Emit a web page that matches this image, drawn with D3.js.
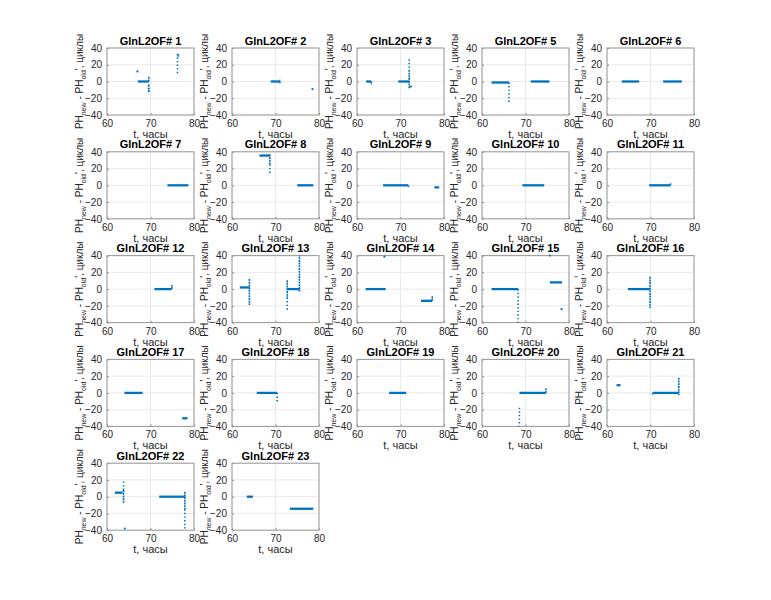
<!DOCTYPE html>
<html>
<head>
<meta charset="utf-8">
<script src="https://cdn.jsdelivr.net/npm/d3@7"></script>
<style>
  body { margin: 0; background: #fff; }
  text { font-family: "Liberation Sans", Arial, sans-serif; }
</style>
</head>
<body>
<div id="vis"></div>
<script>
// panel numbers, in the order they sit in the 5x5 grid
var panels = [1, 2, 3, 5, 6, 7, 8, 9, 10, 11, 12, 13, 14, 15, 16, 17, 18, 19, 20, 21, 22, 23];
var xTicks = [60, 70, 80];
var yTicks = [-40, -20, 0, 20, 40];

// flat runs of points: [panel, t start, t end, value]
var hRuns = [
  [1, 67.1, 69.6, 0], [1, 76.2, 76.6, 31],
  [2, 68.9, 71.0, 0],
  [3, 62.1, 63.3, 0], [3, 69.5, 72.0, 0],
  [5, 62.2, 66.2, -1.2], [5, 71.2, 75.5, 0],
  [6, 63.4, 67.4, 0], [6, 72.9, 77.2, 0],
  [7, 73.9, 78.7, 0],
  [8, 66.3, 68.7, 35.5], [8, 75.0, 78.7, 0],
  [9, 66.0, 71.8, 0], [9, 77.8, 78.9, -2.5],
  [10, 69.3, 74.3, 0],
  [11, 69.7, 74.6, 0],
  [12, 70.9, 74.9, 0],
  [13, 61.8, 64.0, 2], [13, 72.7, 75.5, 0],
  [14, 62.0, 66.6, 0], [14, 74.7, 77.3, -14],
  [15, 62.2, 68.3, 0], [15, 75.6, 78.4, 8],
  [16, 64.8, 69.9, 0],
  [17, 64.0, 68.2, 0], [17, 77.3, 78.5, -30.3],
  [18, 65.7, 70.4, 0],
  [19, 67.4, 71.3, 0],
  [20, 68.6, 74.7, 0],
  [21, 62.2, 63.1, 9.2], [21, 70.5, 76.5, 0],
  [22, 61.8, 63.6, 4.8], [22, 72.0, 77.9, 0],
  [23, 63.4, 64.8, 0], [23, 73.3, 78.7, -14.4]
];

// dense vertical runs: [panel, t, value from, value to]
var vDense = [
  [1, 69.6, 0, 6],
  [2, 71.0, -2, 2],
  [3, 63.3, 0, -4], [3, 72.0, -8, 12],
  [8, 68.7, 37, 25],
  [9, 71.8, 0, -2],
  [11, 74.6, 0, 3],
  [12, 74.9, 0, 4.8],
  [13, 64.0, 12, -19], [13, 72.7, 10.7, -10], [13, 75.5, -3, 40],
  [14, 77.3, -14, -8],
  [16, 69.9, 14.8, -22.7],
  [20, 74.7, 0, 5.6],
  [21, 76.5, 18, -2.8], [21, 70.5, 0, -2],
  [22, 63.8, 8, -7.6], [22, 77.9, 6, -15]
];

// sparse vertical runs: [panel, t, value from, value to]
var vSparse = [
  [1, 76.2, 10, 35],
  [3, 72.0, 12, 29],
  [5, 66.2, -1.2, -24.4],
  [8, 68.7, 25, 13.4],
  [13, 72.7, -10, -27],
  [15, 68.3, 0, -40],
  [18, 70.4, 0, -12.8],
  [20, 68.6, -17.6, -40],
  [22, 77.9, -15, -38], [22, 63.8, 8, 20]
];

// single points: [panel, t, value]
var dots = [
  [1, 67.0, 12], [1, 69.6, -5], [1, 69.6, -8.5], [1, 69.6, -11.5],
  [2, 78.5, -9],
  [3, 72.4, -6],
  [14, 66.3, 38.7],
  [15, 75.6, 40], [15, 78.3, -24],
  [22, 64.1, -38]
];

var W = 771, H = 600;
var cols = 5;
var axW = 87, axH = 67;
var colStep = 125, rowStep = 103.8;
var left0 = 107, top0 = 48;
var blue = "#0072bd";
var font = "Liberation Sans, Arial, sans-serif";

var svg = d3.select("#vis").append("svg")
    .attr("width", W)
    .attr("height", H);

var x = d3.scaleLinear().domain([60, 80]).range([0, axW]);
var y = d3.scaleLinear().domain([-40, 40]).range([axH, 0]);

panels.forEach(function(p, i) {
  var c = i % cols, r = Math.floor(i / cols);
  var g = svg.append("g")
      .attr("transform", "translate(" + (left0 + c * colStep) + "," + (top0 + r * rowStep) + ")");

  // grid
  g.selectAll(".gx").data(xTicks).enter().append("line")
      .attr("x1", function(d) { return x(d); }).attr("x2", function(d) { return x(d); })
      .attr("y1", 0).attr("y2", axH)
      .attr("stroke", "#e5e5e5").attr("stroke-width", 0.8);
  g.selectAll(".gy").data(yTicks).enter().append("line")
      .attr("y1", function(d) { return y(d); }).attr("y2", function(d) { return y(d); })
      .attr("x1", 0).attr("x2", axW)
      .attr("stroke", "#e5e5e5").attr("stroke-width", 0.8);

  // axes
  var ax = g.append("g")
      .attr("transform", "translate(0," + axH + ")")
      .call(d3.axisBottom(x).tickValues(xTicks).tickSize(-2).tickPadding(5));
  var ay = g.append("g")
      .call(d3.axisLeft(y).tickValues(yTicks).tickSize(-2).tickPadding(5));
  [ax, ay].forEach(function(a) {
    a.select(".domain").remove();
    a.selectAll("line").attr("stroke", "#8c8c8c");
    a.selectAll("text").attr("fill", "#262626").style("font-size", "10px")
        .style("font-family", font);
  });

  // box
  g.append("rect").attr("width", axW).attr("height", axH)
      .attr("fill", "none").attr("stroke", "#9a9a9a").attr("stroke-width", 1);

  // data
  g.selectAll(".h").data(hRuns.filter(function(d) { return d[0] === p; }))
    .enter().append("line")
      .attr("x1", function(d) { return x(d[1]); })
      .attr("x2", function(d) { return x(d[2]); })
      .attr("y1", function(d) { return y(d[3]); })
      .attr("y2", function(d) { return y(d[3]); })
      .attr("stroke", blue).attr("stroke-width", 2.3);
  g.selectAll(".vd").data(vDense.filter(function(d) { return d[0] === p; }))
    .enter().append("line")
      .attr("x1", function(d) { return x(d[1]); })
      .attr("x2", function(d) { return x(d[1]); })
      .attr("y1", function(d) { return y(d[2]); })
      .attr("y2", function(d) { return y(d[3]); })
      .attr("stroke", blue).attr("stroke-width", 1.6)
      .attr("stroke-dasharray", "2,0.7");
  g.selectAll(".vs").data(vSparse.filter(function(d) { return d[0] === p; }))
    .enter().append("line")
      .attr("x1", function(d) { return x(d[1]); })
      .attr("x2", function(d) { return x(d[1]); })
      .attr("y1", function(d) { return y(d[2]); })
      .attr("y2", function(d) { return y(d[3]); })
      .attr("stroke", blue).attr("stroke-width", 1.6)
      .attr("stroke-dasharray", "1.4,2.2");
  g.selectAll(".dot").data(dots.filter(function(d) { return d[0] === p; }))
    .enter().append("circle")
      .attr("cx", function(d) { return x(d[1]); })
      .attr("cy", function(d) { return y(d[2]); })
      .attr("r", 1.1)
      .attr("fill", blue);

  // title
  g.append("text")
      .attr("x", axW / 2).attr("y", -3.5)
      .attr("text-anchor", "middle")
      .style("font-size", "11px").style("font-weight", "bold")
      .attr("fill", "#000")
      .text("GlnL2OF# " + p);

  // x label
  g.append("text")
      .attr("x", axW / 2).attr("y", axH + 23)
      .attr("text-anchor", "middle")
      .style("font-size", "11px")
      .attr("fill", "#262626")
      .text("t, часы");

  // y label
  var yl = g.append("text")
      .attr("transform", "translate(-24," + (axH / 2) + ") rotate(-90)")
      .attr("text-anchor", "middle")
      .style("font-size", "10px")
      .attr("fill", "#262626");
  yl.append("tspan").text("PH");
  yl.append("tspan").attr("dy", 2.5).style("font-size", "7px").text("new");
  yl.append("tspan").attr("dy", -2.5).text(" - PH");
  yl.append("tspan").attr("dy", 2.5).style("font-size", "7px").text("old");
  yl.append("tspan").attr("dy", -2.5).text("', циклы");
});
</script>
</body>
</html>
